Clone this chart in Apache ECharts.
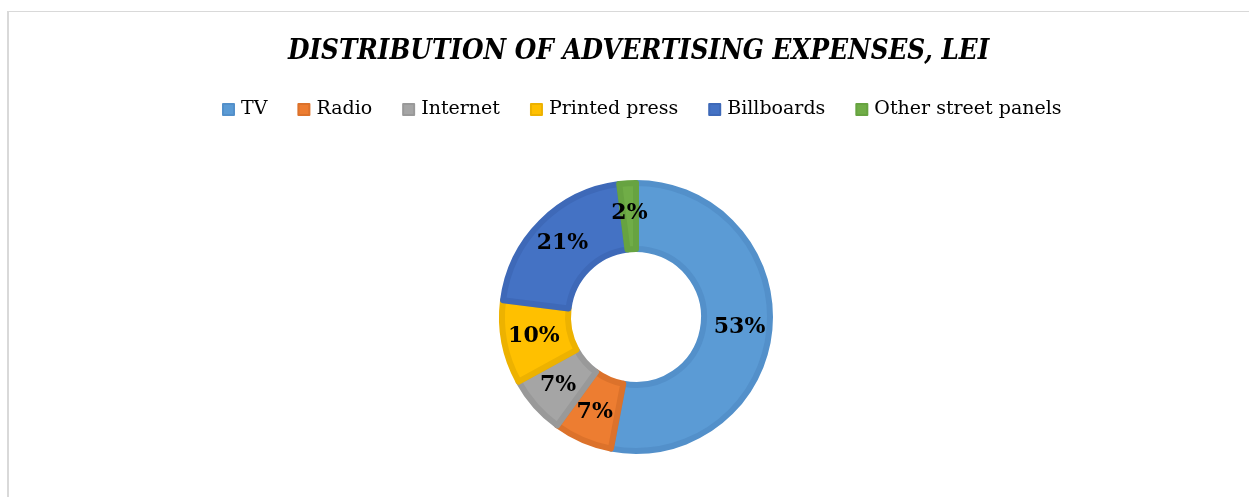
<!DOCTYPE html>
<html>
<head>
<meta charset="utf-8">
<script src="https://cdn.jsdelivr.net/npm/echarts@6/dist/echarts.min.js"></script>
<style>
  html, body { margin: 0; padding: 0; background: #fff; }
  #frame {
    position: absolute; left: 7px; top: 11px; width: 1260px; height: 500px;
    border-left: 2px solid #d9d9d9; border-top: 1px solid #d9d9d9;
  }
  #chart { position: absolute; left: 0; top: 0; width: 1249px; height: 497px; }
</style>
</head>
<body>
<div id="frame"></div>
<div id="chart"></div>
<script>
// Advertising spend shares by channel (percent)
const categories = ['TV', 'Radio', 'Internet', 'Printed press', 'Billboards', 'Other street panels'];
const shares = [53, 7, 7, 10, 21, 2];
const fillColors = ['#5B9BD5', '#ED7D31', '#A5A5A5', '#FFC000', '#4472C4', '#70AD47'];
const rimColors = ['#5390CA', '#DC722B', '#999999', '#EDB200', '#3E69B8', '#67A341'];

const chart = echarts.init(document.getElementById('chart'));
const serif = '"DejaVu Serif", "Liberation Serif", serif';
const serifCond = '"DejaVu Serif Condensed", "DejaVu Serif", serif';

chart.setOption({
  animation: false,
  title: {
    text: 'DISTRIBUTION OF ADVERTISING EXPENSES, LEI',
    left: 283,
    top: 33,
    textStyle: { fontFamily: serifCond, fontSize: 27.5, fontWeight: 'bold', fontStyle: 'italic', color: '#000' }
  },
  legend: {
    top: 95,
    left: 217,
    itemWidth: 11,
    itemHeight: 11,
    itemGap: 30,
    icon: 'rect',
    textStyle: { fontFamily: serif, fontSize: 19, color: '#000', padding: [0, 0, 0, 2] },
    data: categories
  },
  series: [{
    type: 'pie',
    center: [636, 317],
    radius: [68, 134],
    startAngle: 90,
    clockwise: true,
    label: {
      show: true,
      position: 'inside',
      formatter: '{c}%',
      fontFamily: serif,
      fontSize: 22,
      fontWeight: 'bold',
      color: '#000'
    },
    labelLine: { show: false },
    emphasis: { disabled: true },
    data: categories.map((name, i) => ({
      name: name,
      value: shares[i],
      itemStyle: { color: fillColors[i], borderColor: rimColors[i], borderWidth: 6 }
    }))
  }]
});
</script>
</body>
</html>
